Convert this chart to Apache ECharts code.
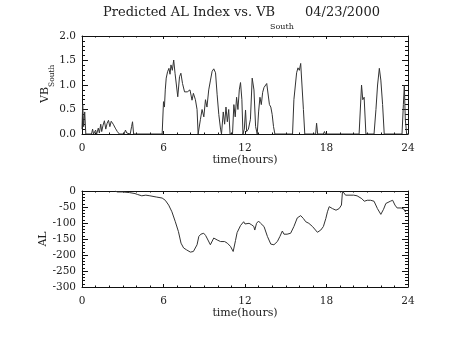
<!DOCTYPE html>
<html>
<head>
<meta charset="utf-8">
<script src="https://cdn.jsdelivr.net/npm/echarts@6/dist/echarts.min.js"></script>
<style>
  html, body { margin: 0; padding: 0; background: #fff; }
  #chart { width: 454px; height: 341px; }
</style>
</head>
<body>
<div id="chart"></div>
<script>
// Southward IMF component (VB_South) against UT hours
const vbHours = [0,0.05,0.12,0.2,0.28,0.7,0.78,0.85,1.0,1.08,1.2,1.28,1.38,1.45,1.55,1.65,1.75,1.85,1.95,2.05,2.15,2.3,2.45,2.6,2.75,3.1,3.2,3.3,3.4,3.55,3.65,3.72,3.8,5.9,6.0,6.07,6.13,6.2,6.3,6.4,6.48,6.55,6.65,6.75,6.85,6.95,7.05,7.18,7.28,7.4,7.55,7.75,7.95,8.1,8.2,8.35,8.47,8.55,8.72,8.84,8.97,9.09,9.2,9.33,9.46,9.58,9.7,9.83,9.95,10.07,10.2,10.27,10.4,10.5,10.6,10.7,10.8,10.9,11.08,11.18,11.28,11.38,11.48,11.58,11.67,11.77,11.85,11.95,12.04,12.12,12.25,12.4,12.53,12.66,12.78,12.9,13.0,13.1,13.2,13.3,13.4,13.6,13.7,13.8,13.9,14.0,14.1,14.2,15.5,15.6,15.8,15.9,16.0,16.1,16.3,16.4,17.2,17.27,17.35,17.77,17.85,17.92,20.4,20.58,20.67,20.77,20.9,21.5,21.64,21.76,21.89,22.0,22.13,22.25,23.56,23.66,23.73,23.8,23.9,24];
const vbValues = [0.1,0.6,0.15,0.45,0,0,0.1,0,0.08,0,0.12,0.02,0.2,0.05,0.18,0.27,0.1,0.22,0.28,0.15,0.26,0.2,0.12,0.05,0,0,0.08,0.02,0.06,0,0.15,0.25,0,0,0.66,0.55,0.9,1.14,1.27,1.34,1.22,1.41,1.3,1.51,1.24,1.0,0.76,1.17,1.24,1.03,0.86,0.86,0.9,0.69,0.83,0.7,0.5,0,0.3,0.5,0.35,0.7,0.55,0.9,1.1,1.28,1.33,1.25,0.8,0.4,0.1,0,0.45,0.2,0.55,0.25,0.5,0,0,0.6,0.35,0.75,0.5,0.9,1.05,0.7,0,0.1,0.49,0.05,0.1,0.3,1.14,0.9,0.15,0,0.45,0.75,0.6,0.85,0.95,1.03,1.0,0.6,0.55,0.4,0.15,0,0,0.7,1.25,1.35,1.3,1.44,0.5,0,0,0.22,0,0,0.05,0,0,1.0,0.7,0.75,0,0,0.5,1.0,1.34,1.1,0.6,0,0,0.6,1.0,0.3,0,0];

// Predicted AL index against UT hours
const alHours = [2.44,2.6,3.0,3.5,3.9,4.1,4.2,4.4,4.7,5.0,5.5,5.9,6.13,6.38,6.62,6.87,7.1,7.29,7.48,7.7,7.98,8.2,8.3,8.47,8.6,8.75,8.96,9.1,9.2,9.45,9.55,9.7,9.82,9.95,10.05,10.2,10.5,10.7,10.93,11.13,11.3,11.42,11.67,11.9,12.0,12.3,12.5,12.65,12.72,12.85,13.0,13.15,13.4,13.65,13.9,14.13,14.38,14.57,14.75,14.87,15.1,15.36,15.6,15.85,16.1,16.3,16.47,16.7,16.97,17.33,17.58,17.77,17.95,18.07,18.2,18.44,18.7,18.93,19.1,19.18,19.3,19.4,19.5,20.0,20.25,20.6,20.78,21.0,21.25,21.5,21.75,22.0,22.2,22.37,22.5,22.7,22.87,23.04,23.2,23.5,23.7,23.8,23.9];
const alValues = [0,-3,-3,-5,-8,-11,-8,-15,-13,-15,-19,-22,-29,-44,-65,-96,-127,-163,-178,-184,-191,-189,-184,-168,-142,-135,-132,-139,-147,-168,-163,-147,-142,-153,-147,-158,-158,-163,-173,-189,-155,-130,-108,-96,-103,-101,-106,-111,-122,-101,-94,-101,-111,-142,-166,-168,-158,-142,-125,-135,-135,-132,-111,-84,-77,-86,-96,-101,-111,-129,-122,-111,-86,-65,-49,-55,-60,-55,-44,0,-1,-13,-13,-13,-15,-24,-32,-29,-29,-32,-55,-73,-57,-39,-44,-32,-29,-44,-53,-53,-57,-65,-60];

// Axis ticks
const hourTicks = [0, 6, 12, 18, 24];
const vbTicks = [0.0, 0.5, 1.0, 1.5, 2.0];
const alTicks = [0, -50, -100, -150, -200, -250, -300];

const FONT = '"DejaVu Serif", "Liberation Serif", serif';
const INK = '#222';

const chart = echarts.init(document.getElementById('chart'), null, { renderer: 'canvas' });

function pairs(xs, ys) { return xs.map((x, i) => [x, ys[i]]); }

function xAxis(grid, position, withLabels, name) {
  return {
    type: 'value', gridIndex: grid, position: position,
    min: hourTicks[0], max: hourTicks[hourTicks.length - 1], interval: hourTicks[1] - hourTicks[0],
    axisLine: { show: true, onZero: false, lineStyle: { color: '#111', width: 1 } },
    axisTick: { show: true, inside: true, length: 3, lineStyle: { color: '#111' } },
    minorTick: { show: true, splitNumber: 6, length: 1.5, lineStyle: { color: '#111' } },
    splitLine: { show: false },
    axisLabel: { show: withLabels, color: INK, fontFamily: FONT, fontSize: 10.5, margin: 9 },
    name: name || '', nameLocation: 'middle', nameGap: 21,
    nameTextStyle: { color: INK, fontFamily: FONT, fontSize: 11 }
  };
}

function yAxis(grid, position, withLabels, ticks, fmt) {
  const lo = Math.min.apply(null, ticks), hi = Math.max.apply(null, ticks);
  return {
    type: 'value', gridIndex: grid, position: position,
    min: lo, max: hi, interval: Math.abs(ticks[1] - ticks[0]),
    axisLine: { show: true, onZero: false, lineStyle: { color: '#111', width: 1 } },
    axisTick: { show: true, inside: true, length: 6, lineStyle: { color: '#111' } },
    minorTick: { show: true, splitNumber: 5, length: 3, lineStyle: { color: '#111' } },
    splitLine: { show: false },
    axisLabel: { show: withLabels, color: INK, fontFamily: FONT, fontSize: 10.5, margin: 6, formatter: fmt }
  };
}

const textEl = (x, y, text, size, rotation, align) => ({
  type: 'text', x: x, y: y, rotation: rotation || 0, silent: true,
  style: { text: text, font: size + 'px ' + FONT, fill: INK,
           align: align || 'left', verticalAlign: 'middle',
           textAlign: align || 'left', textVerticalAlign: 'middle' }
});

chart.setOption({
  animation: false,
  backgroundColor: '#fff',
  grid: [
    { left: 82, top: 36, width: 326, height: 98 },
    { left: 82, top: 191, width: 326, height: 96 }
  ],
  xAxis: [
    xAxis(0, 'bottom', true, 'time(hours)'),
    xAxis(0, 'top', false),
    xAxis(1, 'bottom', true, 'time(hours)'),
    xAxis(1, 'top', false)
  ],
  yAxis: [
    yAxis(0, 'left', true, vbTicks, v => v.toFixed(1)),
    yAxis(0, 'right', false, vbTicks),
    yAxis(1, 'left', true, alTicks, v => String(v)),
    yAxis(1, 'right', false, alTicks)
  ],
  series: [
    { type: 'line', xAxisIndex: 0, yAxisIndex: 0, data: pairs(vbHours, vbValues),
      showSymbol: false, lineStyle: { color: '#333', width: 1 }, clip: true },
    { type: 'line', xAxisIndex: 2, yAxisIndex: 2, data: pairs(alHours, alValues),
      showSymbol: false, lineStyle: { color: '#333', width: 1 }, clip: true }
  ],
  graphic: [
    textEl(103, 13, 'Predicted AL Index vs. VB', 13),
    textEl(270, 27, 'South', 8),
    textEl(305, 13, '04/23/2000', 13),
    textEl(45, 95, 'VB', 11, Math.PI / 2, 'center'),
    textEl(52, 87, 'South', 7.5, Math.PI / 2, 'left'),
    textEl(43, 239, 'AL', 11, Math.PI / 2, 'center')
  ]
});
</script>
</body>
</html>
